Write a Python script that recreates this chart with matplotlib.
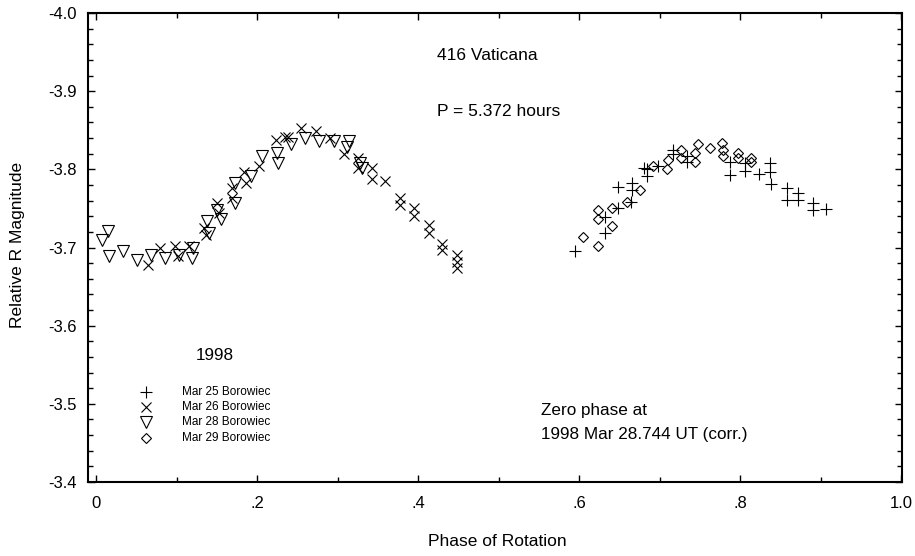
import matplotlib
matplotlib.use("Agg")
import matplotlib.pyplot as plt
from matplotlib.ticker import MultipleLocator, FixedLocator

plt.rcParams['font.family'] = ['Liberation Sans', 'DejaVu Sans']

# Mar 25 Borowiec (+)
mar25_phase = [0.595, 0.632, 0.632, 0.649, 0.649, 0.665, 0.666, 0.666, 0.681, 0.684,
               0.684, 0.698, 0.717, 0.717, 0.734, 0.734, 0.787, 0.787, 0.806, 0.806,
               0.823, 0.837, 0.837, 0.839, 0.858, 0.858, 0.872, 0.872, 0.891, 0.891, 0.907]
mar25_mag = [-3.695, -3.739, -3.719, -3.777, -3.751, -3.758, -3.783, -3.774, -3.802, -3.800,
             -3.791, -3.804, -3.825, -3.819, -3.817, -3.810, -3.810, -3.793, -3.808, -3.798,
             -3.794, -3.808, -3.797, -3.781, -3.776, -3.761, -3.770, -3.761, -3.757, -3.748, -3.749]

# Mar 26 Borowiec (x)
mar26_phase = [0.064, 0.080, 0.098, 0.102, 0.115, 0.134, 0.136, 0.150, 0.153, 0.169,
               0.169, 0.184, 0.186, 0.202, 0.223, 0.235, 0.239, 0.254, 0.273, 0.291,
               0.308, 0.326, 0.326, 0.343, 0.343, 0.359, 0.378, 0.378, 0.395, 0.395,
               0.413, 0.413, 0.430, 0.430, 0.448, 0.448, 0.448]
mar26_mag = [-3.678, -3.699, -3.702, -3.689, -3.702, -3.725, -3.716, -3.757, -3.744, -3.776,
             -3.763, -3.797, -3.783, -3.804, -3.838, -3.842, -3.842, -3.853, -3.849, -3.840,
             -3.819, -3.815, -3.802, -3.802, -3.787, -3.785, -3.763, -3.755, -3.751, -3.740,
             -3.729, -3.719, -3.704, -3.697, -3.691, -3.682, -3.674]

# Mar 28 Borowiec (triangle down)
mar28_phase = [0.008, 0.015, 0.016, 0.033, 0.051, 0.068, 0.086, 0.103, 0.119, 0.120,
               0.138, 0.140, 0.150, 0.155, 0.173, 0.173, 0.192, 0.206, 0.225, 0.226,
               0.242, 0.260, 0.277, 0.295, 0.312, 0.314, 0.328, 0.330]
mar28_mag = [-3.709, -3.721, -3.689, -3.696, -3.684, -3.691, -3.687, -3.691, -3.687, -3.699,
             -3.734, -3.719, -3.748, -3.736, -3.783, -3.757, -3.791, -3.817, -3.821, -3.808,
             -3.832, -3.840, -3.836, -3.836, -3.829, -3.836, -3.808, -3.802]

# Mar 29 Borowiec (diamond)
mar29_phase = [0.605, 0.624, 0.624, 0.624, 0.641, 0.641, 0.659, 0.676, 0.692, 0.709,
               0.711, 0.727, 0.727, 0.744, 0.744, 0.748, 0.763, 0.777, 0.779, 0.779,
               0.798, 0.798, 0.814, 0.814]
mar29_mag = [-3.714, -3.702, -3.748, -3.736, -3.751, -3.727, -3.758, -3.774, -3.804, -3.800,
             -3.812, -3.825, -3.814, -3.810, -3.821, -3.832, -3.827, -3.834, -3.825, -3.817,
             -3.821, -3.815, -3.815, -3.810]

series_labels = ["Mar 25 Borowiec", "Mar 26 Borowiec", "Mar 28 Borowiec", "Mar 29 Borowiec"]
x_ticks = [0, 0.2, 0.4, 0.6, 0.8, 1.0]
x_ticklabels = ["0", ".2", ".4", ".6", ".8", "1.0"]
y_ticks = [-4.0, -3.9, -3.8, -3.7, -3.6, -3.5, -3.4]
y_ticklabels = ["-4.0", "-3.9", "-3.8", "-3.7", "-3.6", "-3.5", "-3.4"]

W, H = 915, 556
fig = plt.figure(figsize=(W/100, H/100), dpi=100)
ax = fig.add_axes([88/W, 1-482/H, (902-88)/W, (482-13)/H])

mk = dict(linestyle='none', color='black', markerfacecolor='none', markeredgewidth=0.8)
data = [(mar25_phase, mar25_mag, '+', 8.5),
        (mar26_phase, mar26_mag, 'x', 7),
        (mar28_phase, mar28_mag, 'v', 8),
        (mar29_phase, mar29_mag, 'D', 5.3)]
for (px, py, m, s) in data:
    ax.plot(px, py, marker=m, markersize=s, **mk)

ax.set_xlim(-0.01, 1.0012)
ax.set_ylim(-3.4, -4.0)
ax.xaxis.set_major_locator(FixedLocator(x_ticks))
ax.set_xticklabels(x_ticklabels)
ax.xaxis.set_minor_locator(MultipleLocator(0.1))
ax.yaxis.set_major_locator(FixedLocator(y_ticks))
ax.set_yticklabels(y_ticklabels)
ax.yaxis.set_minor_locator(MultipleLocator(0.02))
ax.tick_params(which='both', direction='in', top=True, right=True, width=1.0,
               labelsize=12)
ax.tick_params(axis='x', which='major', length=5, pad=10)
ax.tick_params(axis='y', which='major', length=5, pad=8)
ax.tick_params(which='minor', length=3.5)
for sp in ax.spines.values():
    sp.set_linewidth(1.5)

fig.text(497/W, 1-541/H, "Phase of Rotation", fontsize=12.5, ha='center', va='center')
fig.text(18/W, 1-245/H, "Relative R Magnitude", fontsize=12.5, ha='center', va='center',
         rotation=90)

fig.text(437/W, 1-55/H, "416 Vaticana", fontsize=12.5, va='center', ha='left')
fig.text(437/W, 1-112/H, "P = 5.372 hours", fontsize=12.5, va='center', ha='left')
fig.text(215/W, 1-355/H, "1998", fontsize=12.3, va='center', ha='center')
fig.text(541/W, 1-410/H, "Zero phase at", fontsize=12.3, va='center', ha='left')
fig.text(541/W, 1-435/H, "1998 Mar 28.744 UT (corr.)", fontsize=12.3, va='center', ha='left')

# manual legend
leg_rows = [392, 407, 422, 438]
for (px, py, m, s), lab, yy in zip(data, series_labels, leg_rows):
    xd, yd = ax.transData.inverted().transform((146, H-yy))
    ax.plot([xd], [yd], marker=m, markersize=s, **mk)
    fig.text(182/W, 1-yy/H, lab, fontsize=8.5, va='center', ha='left')

fig.savefig("out.png", dpi=100)
